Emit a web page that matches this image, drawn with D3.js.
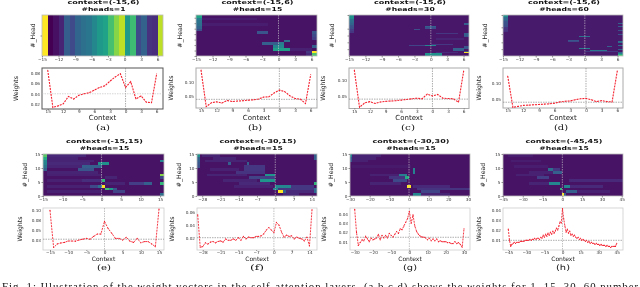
<!DOCTYPE html>
<html>
<head>
<meta charset="utf-8">
<script src="https://cdnjs.cloudflare.com/ajax/libs/d3/7.8.5/d3.min.js"></script>
<style>
html,body{margin:0;padding:0;background:#fff;overflow:hidden}
svg{display:block;filter:blur(0.42px)}
</style>
</head>
<body>
<div id="chart"></div>
<script>
// weights per context position
var weightsA = [.085,.014,.017,.021,.035,.03,.037,.04,.042,.047,.052,.055,.064,.072,.078,.052,.063,.03,.036,.024,.023,.078];
var weightsB = [.142,.011,.025,.028,.024,.033,.029,.031,.032,.034,.035,.038,.045,.046,.06,.07,.065,.05,.04,.038,.022,.125];
var weightsC = [.133,.014,.028,.032,.026,.031,.033,.034,.035,.037,.039,.041,.043,.041,.056,.05,.055,.043,.042,.041,.03,.13];
var weightsD = [.121,.023,.026,.029,.03,.031,.032,.033,.034,.036,.04,.042,.043,.047,.05,.051,.047,.041,.044,.041,.04,.137];
var weightsE = [.1,.006,.015,.0175,.019,.0225,.0225,.022,.025,.027,.029,.027,.034,.04,.04,.072,.054,.042,.029,.029,.025,.032,.022,.019,.029,.018,.021,.021,.015,.008,.103];
var weightsF = [.056,.005,.006,.012,.01,.013,.014,.012,.014,.015,.013,.018,.016,.016,.018,.016,.02,.016,.022,.018,.021,.02,.02,.022,.022,.023,.026,.032,.036,.032,.028,.044,.04,.029,.021,.024,.022,.023,.018,.021,.019,.018,.015,.021,.007,.064];
var weightsG = [.045,.02,.006,.009,.012,.011,.016,.013,.01,.014,.012,.013,.014,.018,.012,.017,.014,.017,.014,.019,.017,.015,.018,.021,.019,.024,.023,.027,.031,.035,.043,.03,.039,.027,.021,.018,.016,.015,.015,.014,.012,.014,.011,.013,.011,.013,.01,.011,.01,.01,.01,.009,.009,.008,.008,.01,.008,.009,.007,.004,.024];
var weightsH = [.021,.01,.004,.006,.007,.008,.007,.008,.008,.008,.009,.009,.009,.009,.01,.01,.01,.01,.011,.01,.011,.011,.012,.011,.012,.012,.011,.013,.012,.015,.013,.016,.014,.017,.015,.018,.016,.019,.017,.019,.022,.02,.024,.028,.027,.041,.031,.024,.018,.021,.017,.019,.015,.016,.014,.015,.013,.012,.013,.011,.012,.01,.011,.01,.009,.01,.008,.009,.007,.008,.007,.007,.006,.007,.006,.006,.005,.006,.005,.005,.005,.004,.005,.004,.004,.003,.004,.004,.004,.004,.007];

var meanWeights = {a:.04,b:.037,c:.04,d:.039,e:.027,f:.02,g:.0148,h:.01};

// heatmap attention, background level then [row, first col, last col, level]
var heatB = [[0,0,0,.58],[1,0,0,.42],[2,0,0,.38],[3,0,0,.36],[4,0,0,.32],[5,0,0,.24],[6,11,12,.26],[6,21,21,.26],[7,21,21,.22],[8,21,21,.18],[9,16,16,.36],[10,12,14,.3],[10,15,15,.42],[11,14,15,.46],[11,21,21,.3],[12,14,16,.56],[12,17,20,.09],[13,20,20,.16],[13,21,21,1],[14,20,20,.12],[14,21,21,.72],[1,1,10,.08],[3,1,12,.08]];
var heatC = [[0,0,0,.52],[1,0,0,.5],[2,0,0,.48],[3,0,0,.38],[4,0,0,.36],[5,0,0,.34],[6,0,0,.32],[7,0,0,.26],[8,0,0,.25],[9,0,0,.24],[10,0,0,.18],[11,0,0,.18],[12,0,0,.16],[6,21,21,.3],[8,14,15,.3],[9,14,15,.24],[10,12,12,.24],[13,21,21,.3],[14,21,21,.3],[15,21,21,.26],[13,16,19,.16],[21,15,18,.16],[22,14,15,.46],[22,11,13,.2],[23,21,21,.26],[24,21,21,.26],[24,19,20,.3],[25,19,20,.3],[26,21,21,.24],[27,21,21,1],[27,16,19,.12],[28,14,16,.5],[29,14,16,.46],[17,16,20,.1]];
var heatD = [[0,0,0,.52],[1,0,0,.5],[2,0,0,.48],[3,0,0,.36],[4,0,0,.36],[5,0,0,.34],[6,0,0,.34],[7,0,0,.34],[8,0,0,.32],[9,0,0,.26],[10,0,0,.26],[11,0,0,.25],[12,0,0,.25],[13,0,0,.25],[14,0,0,.24],[15,0,0,.24],[16,0,0,.24],[17,0,0,.24],[18,0,0,.16],[19,0,0,.16],[20,0,0,.15],[21,0,0,.15],[22,0,0,.15],[23,0,0,.14],[24,0,0,.14],[12,21,21,.3],[16,21,21,.3],[17,21,21,.3],[22,21,21,.25],[28,21,21,.26],[31,14,15,.36],[37,12,13,.26],[38,12,13,.22],[38,21,21,.36],[40,21,21,.34],[42,21,21,.3],[44,21,21,.36],[46,19,19,.3],[48,14,15,.5],[49,14,15,.42],[48,11,13,.2],[51,16,18,.4],[52,16,18,.38],[53,15,20,.16],[50,21,21,.3],[52,21,21,.3],[54,21,21,.32],[56,21,21,.42],[57,21,21,.62],[58,21,21,.78],[59,21,21,.72]];
var heatE = [[0,0,0,.74],[1,0,0,.62],[2,0,0,.46],[3,0,0,.44],[4,0,0,.38],[5,0,0,.3],[0,1,10,.11],[1,1,8,.1],[2,1,12,.1],[3,1,11,.11],[3,14,16,.5],[2,30,30,.46],[4,10,14,.3],[5,9,12,.26],[4,1,9,.1],[6,1,13,.1],[7,30,30,.82],[8,16,18,.1],[8,30,30,.2],[9,15,15,.66],[9,10,14,.13],[10,30,30,.66],[10,26,27,.3],[10,22,25,.18],[10,16,20,.1],[11,15,15,1],[11,14,14,.36],[11,12,13,.22],[12,16,16,.7],[12,17,17,.55],[12,18,18,.26],[13,18,20,.2],[14,30,30,.36],[7,1,14,.09],[9,1,9,.09],[11,1,11,.09],[13,1,14,.09]];
var heatF = [[0,0,0,.5],[1,0,0,.32],[2,0,0,.3],[3,0,0,.26],[4,0,0,.24],[1,45,45,.3],[0,45,45,.3],[3,12,12,.3],[3,19,19,.3],[4,18,25,.16],[5,18,25,.16],[6,15,25,.15],[7,26,29,.52],[8,20,26,.2],[8,26,29,.18],[9,24,29,.52],[10,16,27,.11],[10,45,45,.66],[11,30,35,.46],[11,36,44,.16],[12,29,30,.44],[12,31,44,.16],[12,45,45,.35],[13,31,32,1],[13,33,33,.3],[13,34,44,.11],[13,45,45,.34],[14,33,38,.11],[0,2,8,.1],[1,6,14,.1],[2,3,18,.1],[5,5,15,.09],[7,4,18,.1],[9,10,22,.1],[11,14,28,.09]];
var heatG = [[0,0,0,.46],[1,0,0,.3],[2,0,0,.26],[0,1,15,.1],[1,1,12,.1],[2,1,8,.09],[5,32,32,.44],[6,32,32,.44],[7,25,28,.42],[8,28,29,.62],[8,20,27,.15],[9,22,28,.22],[10,10,25,.1],[11,29,30,1],[11,32,50,.11],[12,34,60,.15],[13,36,45,.2],[14,32,35,.46],[14,36,50,.1],[4,1,30,.07],[7,10,24,.09]];
var heatH = [[14,45,45,1],[14,46,47,.3],[13,48,55,.3],[13,56,80,.09],[12,43,44,.66],[11,46,50,.46],[11,51,75,.11],[10,35,42,.46],[10,20,34,.1],[9,50,90,.11],[8,26,34,.18],[7,10,30,.09],[6,38,44,.3],[6,20,37,.09],[5,34,37,.36],[5,38,42,.16],[4,8,33,.08],[2,6,28,.08],[0,4,22,.08]];

var sans = "'DejaVu Sans'";
var serif = "'DejaVu Serif'";
var tickColor = "#333";

var panels = [
  {id:"a",title:"context=(-15,6)",heads:"#heads=1",x0:42,x1:163,y0:15,y1:56,ly0:68,ly1:109,lx0:47.7,lx1:156.7,values:weightsA,start:-15,rows:1,
   yDomain:[.02,.08],yRange:[104.3,72.7],yTicks:[.02,.04,.06,.08],yLabels:["0.02","0.04","0.06","0.08"],
   heatTicks:[-15,-12,-9,-6,-3,0,3,6],lineTicks:[-15,-12,-9,-6,-3,0,3,6],absLine:true,
   headX:35,weightX:18,frame:"#555",row:0,cap:"(a)",capX:103,capFont:serif,headTicks:[.5]},
  {id:"b",title:"context=(-15,6)",heads:"#heads=15",x0:196,x1:317,y0:15,y1:56,ly0:68,ly1:108,lx0:201,lx1:310.7,values:weightsB,start:-15,rows:15,cells:heatB,bg:.05,
   yDomain:[.05,.1],yRange:[95.7,81.7],yTicks:[.05,.1],yLabels:["0.05","0.10"],
   heatTicks:[-15,-12,-9,-6,-3,0,3,6],lineTicks:[-15,-12,-9,-6,-3,0,3,6],absLine:true,
   headX:182,weightX:173,frame:"#aaa",row:0,cap:"(b)",capX:255,capFont:serif,headTicks:[1,3,5,7,9,11,13,15]},
  {id:"c",title:"context=(-15,6)",heads:"#heads=30",x0:349,x1:469,y0:15,y1:56,ly0:68,ly1:108.5,lx0:354.3,lx1:463.7,values:weightsC,start:-15,rows:30,cells:heatC,bg:.06,
   yDomain:[.05,.1],yRange:[96,80.3],yTicks:[.05,.1],yLabels:["0.05","0.10"],
   heatTicks:[-15,-12,-9,-6,-3,0,3,6],lineTicks:[-15,-12,-9,-6,-3,0,3,6],absLine:true,
   headX:334,weightX:325,frame:"#aaa",row:0,cap:"(c)",capX:408,capFont:serif,headTicks:[0,10,15,20,25]},
  {id:"d",title:"context=(-15,6)",heads:"#heads=60",x0:503,x1:623,y0:15,y1:56,ly0:68,ly1:108,lx0:507.7,lx1:617.3,values:weightsD,start:-15,rows:60,cells:heatD,bg:.07,
   yDomain:[.05,.1],yRange:[98.7,82.7],yTicks:[.05,.1],yLabels:["0.05","0.10"],
   heatTicks:[-15,-12,-9,-6,-3,0,3,6],lineTicks:[-15,-12,-9,-6,-3,0,3,6],absLine:true,
   headX:487,weightX:481,frame:"#aaa",row:0,cap:"(d)",capX:561,capFont:serif,headTicks:[0,18,28,40,50]},
  {id:"e",title:"context=(-15,15)",heads:"#heads=15",x0:43,x1:164,y0:154,y1:196,ly0:208,ly1:250,lx0:50,lx1:159,values:weightsE,start:-15,rows:15,cells:heatE,bg:.05,
   yDomain:[.025,.1],yRange:[240,210.3],yTicks:[.025,.05,.075,.1],yLabels:["0.03","0.05","0.08","0.10"],
   heatTicks:[-15,-10,-5,0,5,10,15],lineTicks:[-15,-10,-5,0,5,10,15],
   headX:27,weightX:22,frame:"#ccc",row:1,cap:"(e)",capX:104,capFont:serif,labelHeads:true},
  {id:"f",title:"context=(-30,15)",heads:"#heads=15",x0:197,x1:317,y0:154,y1:196,ly0:208,ly1:250,lx0:197.7,lx1:312,values:weightsF,start:-30,rows:15,cells:heatF,bg:.05,
   yDomain:[.02,.06],yRange:[237.7,212.3],yTicks:[.02,.04,.06],yLabels:["0.02","0.04","0.06"],
   heatTicks:[-28,-21,-14,-7,0,7,14],lineTicks:[-28,-21,-14,-7,0,7,14],
   headX:181,weightX:174,frame:"#ccc",row:1,cap:"(f)",capX:257,capFont:serif,labelHeads:true},
  {id:"g",title:"context=(-30,30)",heads:"#heads=15",x0:350,x1:470,y0:154,y1:196,ly0:208,ly1:250,lx0:354.7,lx1:464,values:weightsG,start:-30,rows:15,cells:heatG,bg:.05,
   yDomain:[.01,.04],yRange:[241.7,214],yTicks:[.01,.02,.03,.04],yLabels:["0.01","0.02","0.03","0.04"],
   heatTicks:[-30,-20,-10,0,10,20,30],lineTicks:[-30,-20,-10,0,10,20,30],
   headX:333,weightX:326,frame:"#ccc",row:1,cap:"(g)",capX:410,capFont:sans,labelHeads:true},
  {id:"h",title:"context=(-45,45)",heads:"#heads=15",x0:503,x1:623,y0:154,y1:196,ly0:208,ly1:250,lx0:508.3,lx1:616.7,values:weightsH,start:-45,rows:15,cells:heatH,bg:.05,
   yDomain:[.01,.04],yRange:[240.3,209.7],yTicks:[.01,.02,.03,.04],yLabels:["0.01","0.02","0.03","0.04"],
   heatTicks:[-45,-30,-15,0,15,30,45],lineTicks:[-45,-30,-15,0,15,30,45],
   headX:485,weightX:481,frame:"#ccc",row:1,cap:"(h)",capX:563,capFont:sans,labelHeads:true}
];

var caption = "Fig. 1: Illustration of the weight vectors in the self-attention layers. (a,b,c,d) shows the weights for 1, 15, 30, 60 number";

var svg = d3.select("#chart")
    .append("svg")
    .attr("width",640)
    .attr("height",287)
    .attr("viewBox","0 0 640 287");

function fmtTick(v){
    return v < 0 ? "\u2212" + Math.abs(v) : "" + v;
}

function styleAxis(sel){
    sel.selectAll("path").remove();
    sel.selectAll("line").attr("stroke",tickColor).attr("stroke-width",0.5);
    sel.selectAll("text")
        .attr("fill",tickColor)
        .style("font-family",sans)
        .style("font-size","4.2px");
}

function drawHeat(p){
    var g = svg.append("g").attr("class","heat-"+p.id);
    var n = p.values.length;
    var x = d3.scaleLinear().domain([p.start,p.start+n]).range([p.x0,p.x1]);
    var y = d3.scaleLinear().domain([0,p.rows]).range([p.y0,p.y1]);
    var color = d3.scaleSequential(d3.interpolateViridis).domain([0,1]);
    var cells = [];

    if(p.id=="a"){
        var ext = d3.extent(p.values);
        color.domain(ext);
        p.values.forEach(function(v,i){ cells.push({r:0,c0:i,c1:i,v:v}) });
    } else {
        cells.push({r:0,c0:0,c1:n-1,v:p.bg,rows:p.rows});
        p.cells.forEach(function(d){ cells.push({r:d[0],c0:d[1],c1:d[2],v:d[3]}) });
    }

    g.selectAll("rect.cell")
        .data(cells)
        .enter().append("rect")
        .attr("class","cell")
        .attr("x",function(d){ return x(p.start+d.c0) })
        .attr("y",function(d){ return y(d.r) })
        .attr("width",function(d){ return x(p.start+d.c1+1)-x(p.start+d.c0) })
        .attr("height",function(d){ return y(d.r+(d.rows||1))-y(d.r) })
        .attr("shape-rendering","crispEdges")
        .attr("fill",function(d){ return color(d.v) });

    g.append("rect")
        .attr("x",p.x0).attr("y",p.y0)
        .attr("width",p.x1-p.x0).attr("height",p.y1-p.y0)
        .attr("fill","none").attr("stroke","#bbb").attr("stroke-width",0.8);

    if(p.id!="a"){
        g.append("line")
            .attr("x1",x(0)).attr("x2",x(0))
            .attr("y1",p.y0).attr("y2",p.y1)
            .attr("stroke","#ccc").attr("stroke-width",0.6)
            .attr("stroke-dasharray","1.5,1");
    }

    var xAxis = d3.axisBottom(x).tickValues(p.heatTicks).tickSize(1.5).tickPadding(0.8).tickFormat(fmtTick);
    g.append("g").attr("transform","translate(0,"+p.y1+")").call(xAxis).call(styleAxis);

    var yAxis;
    if(p.labelHeads){
        var yLab = d3.scaleLinear().domain([0,15]).range([p.y1,p.y0]);
        yAxis = d3.axisLeft(yLab).tickValues([0,5,10,15]).tickSize(1.5).tickPadding(1);
    } else {
        yAxis = d3.axisLeft(y).tickValues(p.headTicks).tickSize(1.5).tickFormat("");
    }
    g.append("g").attr("transform","translate("+p.x0+",0)").call(yAxis).call(styleAxis);

    g.append("text")
        .attr("transform","translate("+p.headX+","+((p.y0+p.y1)/2)+") rotate(-90)")
        .attr("text-anchor","middle")
        .attr("fill","#222")
        .style("font-family",sans)
        .style("font-size","6.2px")
        .text("#_Head");

    // title above the heatmap, wide and flat like the squeezed figure
    var cx = (p.x0+p.x1)/2+1;
    g.append("text")
        .attr("x",cx).attr("y",p.y0-10.6)
        .attr("text-anchor","middle")
        .attr("textLength",p.title.length*4.8)
        .attr("lengthAdjust","spacingAndGlyphs")
        .attr("fill","#111")
        .style("font-family",sans).style("font-weight","bold").style("font-size","5.4px")
        .text(p.title);
    g.append("text")
        .attr("x",cx).attr("y",p.y0-4)
        .attr("text-anchor","middle")
        .attr("textLength",p.heads.length*5.5)
        .attr("lengthAdjust","spacingAndGlyphs")
        .attr("fill","#111")
        .style("font-family",sans).style("font-weight","bold").style("font-size","5.4px")
        .text(p.heads);
}

function drawLine(p){
    var g = svg.append("g").attr("class","line-"+p.id);
    var n = p.values.length;
    var x = d3.scaleLinear().domain([p.start,p.start+n-1]).range([p.lx0,p.lx1]);
    var y = d3.scaleLinear().domain(p.yDomain).range(p.yRange);

    g.append("rect")
        .attr("x",p.x0).attr("y",p.ly0)
        .attr("width",p.x1-p.x0).attr("height",p.ly1-p.ly0)
        .attr("fill","#fff").attr("stroke",p.frame).attr("stroke-width",p.row==0?1:0.8);

    g.append("line")
        .attr("x1",x(0)).attr("x2",x(0))
        .attr("y1",p.ly0).attr("y2",p.ly1)
        .attr("stroke",p.row==0?"#777":"#999").attr("stroke-width",0.6)
        .attr("stroke-dasharray","1.5,1");
    g.append("line")
        .attr("x1",p.x0).attr("x2",p.x1)
        .attr("y1",y(meanWeights[p.id])).attr("y2",y(meanWeights[p.id]))
        .attr("stroke",p.id=="a"?"#bbb":"#777").attr("stroke-width",0.6)
        .attr("stroke-dasharray","1.5,1");

    var line = d3.line()
        .x(function(d,i){ return x(p.start+i) })
        .y(function(d){ return y(d) });

    g.append("path")
        .datum(p.values)
        .attr("d",line)
        .attr("fill","none")
        .attr("stroke","#f4212f")
        .attr("stroke-width",p.row==0?1.1:0.9)
        .attr("stroke-dasharray","2,1");

    g.selectAll("circle")
        .data(p.values)
        .enter().append("circle")
        .attr("cx",function(d,i){ return x(p.start+i) })
        .attr("cy",function(d){ return y(d) })
        .attr("r",p.row==0?0.4:0.6)
        .attr("fill","#f4212f");

    var xAxis = d3.axisBottom(x).tickValues(p.lineTicks).tickSize(1).tickPadding(0.3)
        .tickFormat(function(v){ return p.absLine ? ""+Math.abs(v) : fmtTick(v) });
    g.append("g").attr("transform","translate(0,"+p.ly1+")").call(xAxis).call(styleAxis);

    var yAxis = d3.axisLeft(y).tickValues(p.yTicks).tickSize(0).tickPadding(2)
        .tickFormat(function(v,i){ return p.yLabels[i] });
    g.append("g").attr("transform","translate("+p.x0+",0)").call(yAxis).call(styleAxis);

    g.append("text")
        .attr("transform","translate("+p.weightX+","+((p.ly0+p.ly1)/2)+") rotate(-90)")
        .attr("text-anchor","middle")
        .attr("fill","#222")
        .style("font-family",sans)
        .style("font-size","6.2px")
        .text("Weights");

    g.append("text")
        .attr("x",(p.x0+p.x1)/2).attr("y",p.row==0?120:261)
        .attr("text-anchor","middle")
        .attr("fill","#222")
        .style("font-family",sans)
        .style("font-size",p.row==0?"7px":"6px")
        .text("Context");

    g.append("text")
        .attr("x",p.capX).attr("y",p.row==0?130:270)
        .attr("text-anchor","middle")
        .attr("textLength",14)
        .attr("lengthAdjust","spacingAndGlyphs")
        .attr("fill","#111")
        .style("font-family",p.capFont)
        .style("font-size","7.5px")
        .text(p.cap);
}

panels.forEach(function(p){
    drawHeat(p);
    drawLine(p);
});

svg.append("text")
    .attr("x",2).attr("y",289.5)
    .attr("textLength",636)
    .attr("lengthAdjust","spacing")
    .attr("fill","#111")
    .style("font-family","'Liberation Serif'")
    .style("font-size","10.8px")
    .text(caption);
</script>
</body>
</html>
